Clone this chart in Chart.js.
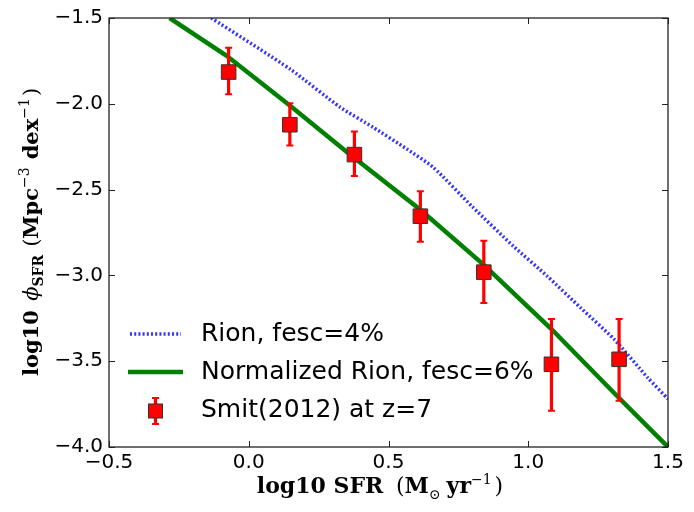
<!DOCTYPE html>
<html>
<head>
<meta charset="utf-8">
<script src="https://cdn.jsdelivr.net/npm/chart.js@4/dist/chart.umd.min.js"></script>
<style>
  html, body { margin: 0; padding: 0; background: #fff; }
  #wrap { width: 694px; height: 512px; }
</style>
</head>
<body>
<div id="wrap"><canvas id="sfrChart" width="694" height="512"></canvas></div>
<script>
// Tick values on both axes
const xTickValues = [-0.5, 0.0, 0.5, 1.0, 1.5];
const yTickValues = [-4.0, -3.5, -3.0, -2.5, -2.0, -1.5];

// Rion model, fesc = 4% (blue dotted)
const rionSFR = [-0.134, 0.15, 0.327, 0.445, 0.567, 0.66, 0.80, 0.947, 1.069, 1.188, 1.306, 1.428, 1.5];
const rionPhi = [-1.50, -1.80, -2.02, -2.137, -2.265, -2.37, -2.60, -2.83, -3.006, -3.19, -3.37, -3.597, -3.72];

// Normalized Rion, fesc = 6% (green)
const normSFR = [-0.283, -0.079, 0.147, 0.352, 0.614, 0.840, 1.080, 1.324, 1.5];
const normPhi = [-1.50, -1.72, -2.01, -2.282, -2.618, -2.937, -3.308, -3.713, -4.0];

// Smit (2012) at z=7, with error bar ends
const smitSFR = [-0.072, 0.147, 0.378, 0.614, 0.841, 1.083, 1.325];
const smitPhi = [-1.815, -2.122, -2.296, -2.655, -2.981, -3.518, -3.489];
const smitHigh = [-1.674, -1.997, -2.162, -2.510, -2.798, -3.254, -3.254];
const smitLow = [-1.944, -2.243, -2.421, -2.804, -3.161, -3.789, -3.731];

const legendLabels = ['Rion, fesc=4%', 'Normalized Rion, fesc=6%', 'Smit(2012) at z=7'];

const BLUE = 'rgba(30, 30, 255, 0.9)';
const GREEN = '#008000';
const RED = '#ff0000';

function toPoints(xs, ys) {
  return xs.map((x, i) => ({ x: x, y: ys[i] }));
}

function fmtTick(v) {
  return v.toFixed(1).replace('-', '\u2212');
}

// draw a run of text pieces (normal / sup / sub) centred on 0
function drawRich(ctx, segs) {
  let total = 0;
  segs.forEach(s => {
    ctx.font = s.font;
    s.w = ctx.measureText(s.text).width + (s.gap || 0);
    total += s.w;
  });
  let x = -total / 2;
  segs.forEach(s => {
    ctx.font = s.font;
    ctx.fillText(s.text, x, s.dy || 0);
    x += s.w;
  });
}

// Error bars under the square markers
const errorBarPlugin = {
  id: 'errorBars',
  beforeDatasetDraw(chart, args) {
    if (args.index !== 2) return;
    const ctx = chart.ctx;
    const xs = chart.scales.x, ys = chart.scales.y;
    ctx.save();
    ctx.strokeStyle = RED;
    smitSFR.forEach((v, i) => {
      const px = xs.getPixelForValue(v);
      const top = ys.getPixelForValue(smitHigh[i]);
      const bot = ys.getPixelForValue(smitLow[i]);
      ctx.lineWidth = 3.2;
      ctx.beginPath();
      ctx.moveTo(px, top);
      ctx.lineTo(px, bot);
      ctx.stroke();
      ctx.lineWidth = 2;
      ctx.beginPath();
      ctx.moveTo(px - 3.5, top);
      ctx.lineTo(px + 3.5, top);
      ctx.moveTo(px - 3.5, bot);
      ctx.lineTo(px + 3.5, bot);
      ctx.stroke();
    });
    ctx.restore();
  }
};

// Frame, inward ticks, axis titles and legend
const framePlugin = {
  id: 'frame',
  afterDraw(chart) {
    const ctx = chart.ctx;
    const a = chart.chartArea;
    const xs = chart.scales.x, ys = chart.scales.y;
    ctx.save();
    ctx.strokeStyle = '#222';
    ctx.lineWidth = 1.3;
    ctx.strokeRect(a.left, a.top, a.right - a.left, a.bottom - a.top);
    ctx.lineWidth = 1;
    ctx.beginPath();
    xTickValues.forEach(v => {
      const px = Math.round(xs.getPixelForValue(v)) + 0.5;
      ctx.moveTo(px, a.bottom); ctx.lineTo(px, a.bottom - 6);
      ctx.moveTo(px, a.top); ctx.lineTo(px, a.top + 6);
    });
    yTickValues.forEach(v => {
      const py = Math.round(ys.getPixelForValue(v)) + 0.5;
      ctx.moveTo(a.left, py); ctx.lineTo(a.left + 6, py);
      ctx.moveTo(a.right, py); ctx.lineTo(a.right - 6, py);
    });
    ctx.stroke();

    // axis titles
    ctx.fillStyle = '#000';
    ctx.textBaseline = 'alphabetic';
    ctx.textAlign = 'left';

    const bx = 'bold 22px "DejaVu Serif"';
    const rx = '22px "DejaVu Serif"';
    const sx = '14px "DejaVu Serif"';
    ctx.save();
    ctx.translate(380, 493);
    drawRich(ctx, [
      { text: 'log10 SFR ', font: bx, gap: 5 },
      { text: '(', font: rx },
      { text: 'M', font: bx },
      { text: '\u2299', font: sx, dy: 6, gap: 6 },
      { text: 'yr', font: bx },
      { text: '\u22121', font: sx, dy: -9, gap: 3 },
      { text: ')', font: rx }
    ]);
    ctx.restore();

    const by = 'bold 21px "DejaVu Serif"';
    const ry = '21px "DejaVu Serif"';
    ctx.save();
    ctx.translate(38, 232);
    ctx.rotate(-Math.PI / 2);
    drawRich(ctx, [
      { text: 'log10 ', font: by, gap: 2 },
      { text: '\u03d5', font: 'italic 21px "DejaVu Serif"' },
      { text: 'SFR', font: 'bold 14px "DejaVu Serif"', dy: 5, gap: 8 },
      { text: '(', font: ry },
      { text: 'Mpc', font: by },
      { text: '\u22123', font: sx, dy: -9, gap: 8 },
      { text: 'dex', font: by },
      { text: '\u22121', font: sx, dy: -9, gap: 2 },
      { text: ')', font: ry }
    ]);
    ctx.restore();

    // legend inside the lower left of the plot
    const lx = a.left;
    const rows = [a.bottom - 113, a.bottom - 75, a.bottom - 37];
    ctx.lineCap = 'butt';
    ctx.strokeStyle = BLUE;
    ctx.lineWidth = 3.5;
    ctx.setLineDash([2, 2.2]);
    ctx.beginPath();
    ctx.moveTo(lx + 21, rows[0]); ctx.lineTo(lx + 72, rows[0]);
    ctx.stroke();
    ctx.setLineDash([]);
    ctx.strokeStyle = GREEN;
    ctx.lineWidth = 4.5;
    ctx.beginPath();
    ctx.moveTo(lx + 19, rows[1]); ctx.lineTo(lx + 74, rows[1]);
    ctx.stroke();
    const mx = lx + 46.5, my = rows[2] + 1;
    ctx.strokeStyle = RED;
    ctx.lineWidth = 3.2;
    ctx.beginPath();
    ctx.moveTo(mx, my - 13); ctx.lineTo(mx, my + 13);
    ctx.stroke();
    ctx.lineWidth = 2;
    ctx.beginPath();
    ctx.moveTo(mx - 3.5, my - 13); ctx.lineTo(mx + 3.5, my - 13);
    ctx.moveTo(mx - 3.5, my + 13); ctx.lineTo(mx + 3.5, my + 13);
    ctx.stroke();
    ctx.fillStyle = RED;
    ctx.strokeStyle = '#333';
    ctx.lineWidth = 1;
    ctx.fillRect(mx - 7, my - 7, 14, 14);
    ctx.strokeRect(mx - 7, my - 7, 14, 14);

    ctx.fillStyle = '#000';
    ctx.font = '25px "DejaVu Sans"';
    ctx.textBaseline = 'middle';
    legendLabels.forEach((t, i) => ctx.fillText(t, lx + 92, rows[i]));
    ctx.restore();
  }
};

const ctx = document.getElementById('sfrChart').getContext('2d');
const sfrChart = new Chart(ctx, {
  type: 'scatter',
  data: {
    datasets: [
      {
        type: 'line',
        label: legendLabels[0],
        data: toPoints(rionSFR, rionPhi),
        borderColor: BLUE,
        borderWidth: 3.5,
        borderDash: [2, 2.2],
        pointRadius: 0,
        tension: 0.2,
        fill: false,
        order: 3
      },
      {
        type: 'line',
        label: legendLabels[1],
        data: toPoints(normSFR, normPhi),
        borderColor: GREEN,
        borderWidth: 4.5,
        pointRadius: 0,
        tension: 0,
        fill: false,
        order: 2
      },
      {
        label: legendLabels[2],
        data: toPoints(smitSFR, smitPhi),
        pointStyle: 'rect',
        pointRadius: 10.3,
        backgroundColor: RED,
        borderColor: '#333',
        borderWidth: 1,
        order: 1
      }
    ]
  },
  options: {
    responsive: false,
    animation: false,
    events: [],
    layout: { padding: { left: 0, right: 26, top: 15, bottom: 0 } },
    plugins: {
      legend: { display: false },
      tooltip: { enabled: false }
    },
    scales: {
      x: {
        type: 'linear',
        min: -0.5,
        max: 1.5,
        afterBuildTicks: scale => { scale.ticks = xTickValues.map(v => ({ value: v })); },
        afterFit: scale => { scale.height = 65; },
        grid: { display: false, drawTicks: false },
        border: { display: false },
        ticks: {
          padding: 4,
          color: '#000',
          font: { family: 'DejaVu Sans', size: 20 },
          maxRotation: 0,
          callback: v => fmtTick(v)
        }
      },
      y: {
        type: 'linear',
        min: -4.0,
        max: -1.5,
        afterBuildTicks: scale => { scale.ticks = yTickValues.map(v => ({ value: v })); },
        afterFit: scale => { scale.width = 109; },
        grid: { display: false, drawTicks: false },
        border: { display: false },
        ticks: {
          padding: 6,
          color: '#000',
          font: { family: 'DejaVu Sans', size: 20 },
          callback: v => fmtTick(v)
        }
      }
    }
  },
  plugins: [errorBarPlugin, framePlugin]
});
</script>
</body>
</html>
